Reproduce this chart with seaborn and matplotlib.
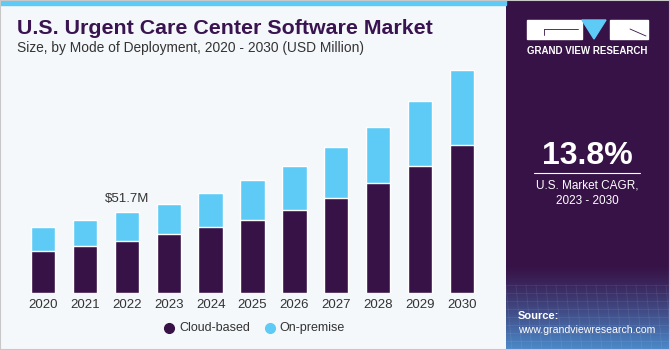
import numpy as np
import pandas as pd
import matplotlib
matplotlib.use("Agg")
import matplotlib.pyplot as plt
from matplotlib.patches import Rectangle, Polygon
from matplotlib.lines import Line2D
import seaborn as sns

years = ["2020", "2021", "2022", "2023", "2024", "2025", "2026", "2027", "2028", "2029", "2030"]
cloud_based = [27.0, 30.2, 33.4, 37.7, 42.1, 46.6, 53.2, 61.0, 70.2, 81.3, 94.7]
on_premise = [15.3, 16.8, 18.3, 19.5, 21.7, 25.9, 28.1, 32.2, 35.8, 41.3, 48.0]
series_names = ["Cloud-based", "On-premise"]
annot_label = "$51.7M"
annot_year = "2022"

C_DARK = "#371247"
C_LIGHT = "#5ECBF6"
C_BG = "#F4F8FB"
C_TITLE = "#3A1450"

sns.set_theme(style="white")
plt.rcParams["font.family"] = ["Liberation Sans", "DejaVu Sans"]

W, H = 670, 350
fig = plt.figure(figsize=(W / 100, H / 100), dpi=100)
fig.patch.set_facecolor(C_BG)

def fx(px):
    return px / W

def fy(py):
    return 1 - py / H

# top blue strip
fig.patches.append(Rectangle((0, fy(5)), fx(506), 5 / H, transform=fig.transFigure,
                             color=C_LIGHT, zorder=0))
# outer border
fig.patches.append(Rectangle((0, 0), 1, 1, transform=fig.transFigure, fill=False,
                             edgecolor="#C8C8C8", lw=1.5, zorder=10))

# ---- main chart axes ----
ppu = 41.9                   # pixels per category
x0px = 43                    # center of first bar in px
ax_left_px, ax_right_px = 5, 495
base_px, top_px = 293.3, 60
px_per_m = 1.567
ax = fig.add_axes([fx(ax_left_px), fy(base_px), fx(ax_right_px - ax_left_px),
                   (base_px - top_px) / H])
ax.set_facecolor("none")

totals = [c + o for c, o in zip(cloud_based, on_premise)]
df = pd.DataFrame({"year": years, "total": totals, "cloud": cloud_based})
sns.barplot(data=df, x="year", y="total", color=C_LIGHT, width=0.58, ax=ax,
            saturation=1, order=years)
sns.barplot(data=df, x="year", y="cloud", color=C_DARK, width=0.58, ax=ax,
            saturation=1, order=years)

ax.set_xlim(-(x0px - ax_left_px) / ppu, (ax_right_px - x0px) / ppu)
ax.set_ylim(0, (base_px - top_px) / px_per_m)
ax.set_xlabel("")
ax.set_ylabel("")
ax.set_yticks([])
sns.despine(ax=ax, left=True, bottom=True)
ax.tick_params(axis="x", length=0, pad=4, labelsize=9.5, labelcolor="#333333")

i = years.index(annot_year)
ax.text(i, totals[i] + 4.5, annot_label, ha="center", va="bottom", fontsize=9.5,
        color="#333333")

# legend
for name, col, dx in zip(series_names, [C_DARK, C_LIGHT], [169, 269.7]):
    fig.add_artist(Line2D([fx(dx)], [fy(328)], marker="o", markersize=7,
                          color=col, linestyle="none", transform=fig.transFigure))
    fig.text(fx(dx + 10), fy(328), name, ha="left", va="center", fontsize=9,
             color="#333333")

# titles
fig.text(fx(17), fy(28), "U.S. Urgent Care Center Software Market", ha="left",
         va="center", fontsize=15.4, fontweight="bold", color=C_TITLE)
fig.text(fx(17), fy(48), "Size, by Mode of Deployment, 2020 - 2030 (USD Million)",
         ha="left", va="center", fontsize=9.9, color="#333333")

# ---- right panel ----
pax = fig.add_axes([fx(506), 0, fx(W - 506), 1])
pax.set_xlim(506, W)
pax.set_ylim(H, 0)
pax.axis("off")
grad = np.zeros((H, 1, 3))
top_c = np.array([0x37, 0x12, 0x47]) / 255
bot_c = np.array([0x4C, 0x8C, 0xCC]) / 255
for r in range(H):
    t = 0 if r < 265 else ((r - 265) / (H - 265)) ** 1.2
    grad[r, 0] = top_c * (1 - t) + bot_c * t
pax.imshow(grad, extent=(506, W, H, 0), aspect="auto", zorder=0)
# faint grid texture near bottom
for yy in range(285, 350, 8):
    pax.plot([506, W], [yy, yy], color="white", alpha=0.08, lw=0.6, zorder=1)
for xx in range(506, W, 10):
    pax.plot([xx, xx + 6], [285, H], color="white", alpha=0.08, lw=0.6, zorder=1)

# logo
pax.add_patch(Rectangle((527, 20), 55, 19, color="white", zorder=2))
pax.add_patch(Polygon([(582, 20), (606, 20), (594, 39)], closed=True,
                      color=C_LIGHT, zorder=2))
pax.add_patch(Rectangle((610, 20), 38, 19, color="white", zorder=2))
pax.plot([544, 578], [29, 29], color=C_DARK, lw=0.6, zorder=3)
pax.plot([544, 544], [29, 35], color=C_DARK, lw=0.6, zorder=3)
pax.plot([630, 646], [29, 36], color=C_DARK, lw=0.6, zorder=3)
pax.text(587.5, 51, "GRAND VIEW RESEARCH", ha="center", va="center", fontsize=7,
         fontweight="bold", color="white", zorder=3)

pax.text(587, 156, "13.8%", ha="center", va="center", fontsize=23,
         fontweight="bold", color="white", zorder=3)
pax.plot([534, 640], [173, 173], color="white", lw=0.8, zorder=3)
pax.text(587, 185, "U.S. Market CAGR,", ha="center", va="center", fontsize=8.5,
         color="white", zorder=3)
pax.text(587, 201, "2023 - 2030", ha="center", va="center", fontsize=8.5,
         color="white", zorder=3)

pax.text(518, 316, "Source:", ha="left", va="center", fontsize=8,
         fontweight="bold", color="white", zorder=3)
pax.text(518, 330, "www.grandviewresearch.com", ha="left", va="center", fontsize=7.6,
         color="white", zorder=3)

fig.savefig("out.png", dpi=100, facecolor=fig.get_facecolor())
